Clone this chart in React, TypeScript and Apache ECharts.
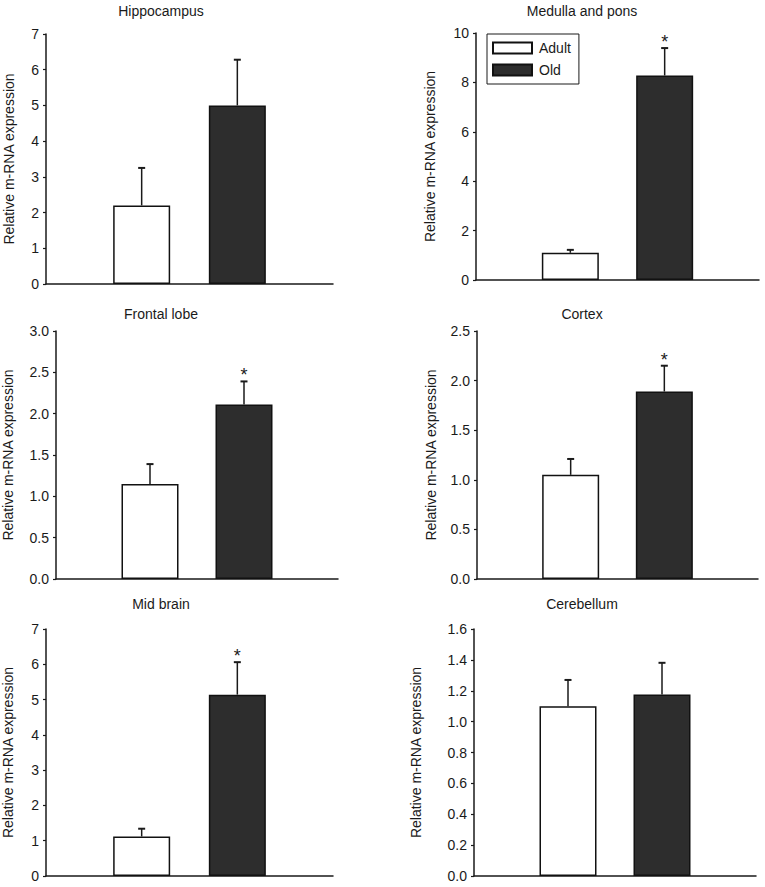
import React, { useEffect, useRef } from "react";
import * as echarts from "echarts";

const regions = ["Hippocampus", "Medulla and pons", "Frontal lobe", "Cortex", "Mid brain", "Cerebellum"];
const adultMean = [2.2, 1.1, 1.15, 1.05, 1.12, 1.1];
const adultErr = [1.05, 0.12, 0.24, 0.16, 0.22, 0.17];
const oldMean = [5.0, 8.28, 2.11, 1.89, 5.14, 1.176];
const oldErr = [1.28, 1.11, 0.28, 0.26, 0.92, 0.205];
const adultSig = [0, 0, 0, 0, 0, 0];
const oldSig = [0, 1, 1, 1, 1, 0];
const yMax = [7, 10, 3.0, 2.5, 7, 1.6];
const yInterval = [1, 2, 0.5, 0.5, 1, 0.2];
const yDecimals = [0, 0, 1, 1, 0, 1];
const groups = ["Adult", "Old"];
const yName = "Relative m-RNA expression";

// layout (pixels)
const grids = [
  { left: 46, top: 34, width: 287, height: 250, nameGap: 30, titleX: 161, titleY: 11 },
  { left: 476, top: 33, width: 283, height: 247, nameGap: 39, titleX: 582, titleY: 11 },
  { left: 56, top: 331, width: 282, height: 248, nameGap: 41, titleX: 161, titleY: 314 },
  { left: 477, top: 331, width: 281, height: 248, nameGap: 39, titleX: 582, titleY: 314 },
  { left: 46, top: 629, width: 287, height: 247, nameGap: 31, titleX: 161, titleY: 604 },
  { left: 474, top: 629, width: 282, height: 247, nameGap: 51, titleX: 582, titleY: 604 },
];

const FONT = "'Liberation Sans', Arial, Helvetica, sans-serif";
const INK = "#1a1a1a";

export default function App() {
  const ref = useRef<HTMLDivElement>(null);
  useEffect(() => {
    if (!ref.current) return;
    const chart = echarts.init(ref.current, null, { renderer: "svg" });
    const xAxis: any[] = [];
    const yAxis: any[] = [];
    const series: any[] = [];
    const graphic: any[] = [];
    regions.forEach((name, i) => {
      const g = grids[i];
      xAxis.push({
        type: "category",
        gridIndex: i,
        data: ["s0", "Adult", "Old", "s3"],
        boundaryGap: false,
        axisLine: { lineStyle: { color: INK, width: 1.5 } },
        axisTick: { show: false },
        axisLabel: { show: false },
        splitLine: { show: false },
      });
      yAxis.push({
        type: "value",
        gridIndex: i,
        min: 0,
        max: yMax[i],
        interval: yInterval[i],
        name: yName,
        nameLocation: "middle",
        nameRotate: 90,
        nameGap: g.nameGap,
        nameTextStyle: { fontSize: 14, color: INK, fontFamily: FONT },
        axisLine: { show: true, lineStyle: { color: INK, width: 1.5 } },
        axisTick: { show: true, length: 3, lineStyle: { color: INK, width: 1.2 } },
        axisLabel: {
          fontSize: 14,
          color: INK,
          fontFamily: FONT,
          margin: 7,
          formatter: (v: number) => v.toFixed(yDecimals[i]),
        },
        splitLine: { show: false },
      });
      series.push({
        type: "bar",
        name: groups[0],
        xAxisIndex: i,
        yAxisIndex: i,
        barWidth: 57,
        barGap: "-100%",
        data: ["-", adultMean[i], "-", "-"],
        itemStyle: { color: "#ffffff", borderColor: "#111111", borderWidth: 1.5 },
      });
      series.push({
        type: "bar",
        name: groups[1],
        xAxisIndex: i,
        yAxisIndex: i,
        barWidth: 57,
        barGap: "-100%",
        data: ["-", "-", oldMean[i], "-"],
        itemStyle: { color: "#2d2d2d", borderColor: "#111111", borderWidth: 1.5 },
      });
      series.push({
        type: "custom",
        xAxisIndex: i,
        yAxisIndex: i,
        z: 5,
        data: [
          [1, adultMean[i], adultErr[i], adultSig[i]],
          [2, oldMean[i], oldErr[i], oldSig[i]],
        ],
        renderItem: (params: any, api: any) => {
          const x = api.value(0);
          const m = api.value(1);
          const e = api.value(2);
          const s = api.value(3);
          const base = api.coord([x, m]);
          const top = api.coord([x, m + e]);
          const children: any[] = [
            { type: "line", shape: { x1: base[0], y1: base[1], x2: top[0], y2: top[1] }, style: { stroke: INK, lineWidth: 1.5 } },
            { type: "line", shape: { x1: top[0] - 3.5, y1: top[1], x2: top[0] + 3.5, y2: top[1] }, style: { stroke: INK, lineWidth: 2 } },
          ];
          if (s) {
            children.push({
              type: "text",
              x: top[0],
              y: top[1] + 3,
              style: { text: "*", fontSize: 18, fontFamily: FONT, fill: INK, align: "center", verticalAlign: "bottom" },
            });
          }
          return { type: "group", children };
        },
      });
      graphic.push({
        type: "text",
        x: g.titleX,
        y: g.titleY,
        style: { text: name, fontSize: 14, fontFamily: FONT, fill: INK, align: "center", verticalAlign: "middle" },
      });
    });
    chart.setOption({
      animation: false,
      backgroundColor: "#ffffff",
      grid: grids.map((g) => ({ left: g.left, top: g.top, width: g.width, height: g.height })),
      xAxis,
      yAxis,
      series,
      graphic,
      legend: {
        data: groups,
        orient: "vertical",
        left: 487,
        top: 34,
        padding: [7, 8, 7, 5],
        itemGap: 8,
        itemWidth: 39,
        itemHeight: 11,
        icon: "rect",
        borderColor: INK,
        borderWidth: 1,
        textStyle: { fontSize: 14, color: INK, fontFamily: FONT, padding: [0, 0, 0, 2] },
        selectedMode: false,
      },
    });
    return () => chart.dispose();
  }, []);
  return <div ref={ref} style={{ position: "absolute", left: 0, top: 0, width: 765, height: 887, background: "#fff" }} />;
}
